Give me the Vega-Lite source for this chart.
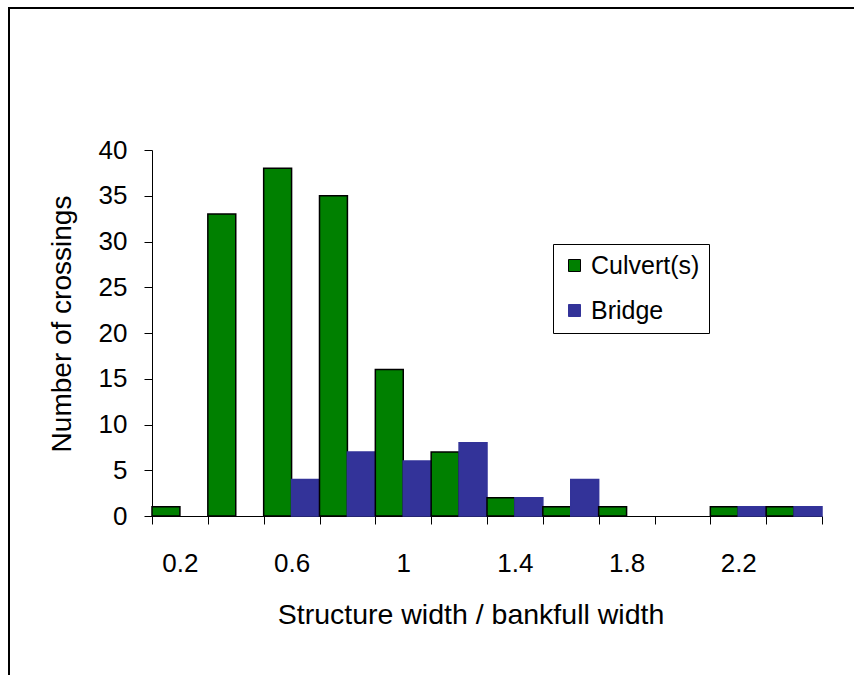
{
  "$schema": "https://vega.github.io/schema/vega-lite/v6.json",
  "width": 845,
  "height": 667,
  "autosize": "none",
  "padding": {"left": 9, "top": 8, "right": 0, "bottom": 0},
  "background": "white",
  "config": {
    "view": {"stroke": "#000000", "strokeWidth": 2, "strokeDash": [845, 1512, 667]},
    "font": "Liberation Sans",
    "axis": {"domainColor": "#000000", "tickColor": "#000000", "labelColor": "#000000", "titleColor": "#000000", "grid": false, "domainWidth": 1, "tickWidth": 1, "titleFontWeight": "normal"},
    "legend": {"labelColor": "#000000"}
  },
  "data": {
    "values": [
      {"ratio": "0.2", "type": "Culvert(s)", "count": 1},
      {"ratio": "0.4", "type": "Culvert(s)", "count": 33},
      {"ratio": "0.6", "type": "Culvert(s)", "count": 38},
      {"ratio": "0.6", "type": "Bridge", "count": 4},
      {"ratio": "0.8", "type": "Culvert(s)", "count": 35},
      {"ratio": "0.8", "type": "Bridge", "count": 7},
      {"ratio": "1", "type": "Culvert(s)", "count": 16},
      {"ratio": "1", "type": "Bridge", "count": 6},
      {"ratio": "1.2", "type": "Culvert(s)", "count": 7},
      {"ratio": "1.2", "type": "Bridge", "count": 8},
      {"ratio": "1.4", "type": "Culvert(s)", "count": 2},
      {"ratio": "1.4", "type": "Bridge", "count": 2},
      {"ratio": "1.6", "type": "Culvert(s)", "count": 1},
      {"ratio": "1.6", "type": "Bridge", "count": 4},
      {"ratio": "1.8", "type": "Culvert(s)", "count": 1},
      {"ratio": "2.2", "type": "Culvert(s)", "count": 1},
      {"ratio": "2.2", "type": "Bridge", "count": 1},
      {"ratio": "2.4", "type": "Culvert(s)", "count": 1},
      {"ratio": "2.4", "type": "Bridge", "count": 1}
    ]
  },
  "mark": {"type": "bar", "strokeWidth": 1.5},
  "encoding": {
    "x": {
      "field": "ratio",
      "type": "ordinal",
      "scale": {"domain": ["0.2", "0.4", "0.6", "0.8", "1", "1.2", "1.4", "1.6", "1.8", "2", "2.2", "2.4"], "range": [143, 813], "paddingInner": 0, "paddingOuter": 0},
      "axis": {
        "offset": -159,
        "labelAngle": 0,
        "tickBand": "extent",
        "tickSize": 8,
        "labelPadding": 26,
        "labelFontSize": 26,
        "labelExpr": "(datum.label == '0.2' || datum.label == '0.6' || datum.label == '1' || datum.label == '1.4' || datum.label == '1.8' || datum.label == '2.2') ? datum.label : ''",
        "title": "Structure width / bankfull width",
        "titleFontSize": 28.5,
        "titleX": 461.5,
        "titleY": 107,
        "titleBaseline": "alphabetic",
        "titleAlign": "center"
      }
    },
    "xOffset": {
      "field": "type",
      "type": "nominal",
      "scale": {"domain": ["Culvert(s)", "Bridge"], "paddingInner": 0, "paddingOuter": 0}
    },
    "y": {
      "field": "count",
      "type": "quantitative",
      "scale": {"domain": [0, 40], "nice": false, "range": [508, 142]},
      "axis": {
        "offset": -143,
        "values": [0, 5, 10, 15, 20, 25, 30, 35, 40],
        "tickSize": 8,
        "labelPadding": 17,
        "labelFontSize": 26,
        "title": "Number of crossings",
        "titleFontSize": 28,
        "titleAngle": -90,
        "titleX": -89.5,
        "titleY": 315.5,
        "titleBaseline": "middle",
        "titleAlign": "center"
      }
    },
    "fill": {
      "field": "type",
      "type": "nominal",
      "scale": {"domain": ["Culvert(s)", "Bridge"], "range": ["#008000", "#333399"]},
      "legend": {"title": null, "orient": "none", "legendX": 544, "legendY": 236, "strokeColor": "#000000", "fillColor": "#ffffff", "padding": 9, "symbolType": "square", "symbolSize": 144, "symbolStrokeWidth": 1, "labelFontSize": 25, "rowPadding": 19, "symbolOffset": 0, "labelOffset": 4}
    },
    "stroke": {
      "field": "type",
      "type": "nominal",
      "scale": {"domain": ["Culvert(s)", "Bridge"], "range": ["#000000", "#333399"]},
      "legend": {"title": null, "orient": "none", "legendX": 544, "legendY": 236, "strokeColor": "#000000", "fillColor": "#ffffff", "padding": 9, "symbolType": "square", "symbolSize": 144, "symbolStrokeWidth": 1, "labelFontSize": 25, "rowPadding": 19, "symbolOffset": 0, "labelOffset": 4}
    }
  }
}
